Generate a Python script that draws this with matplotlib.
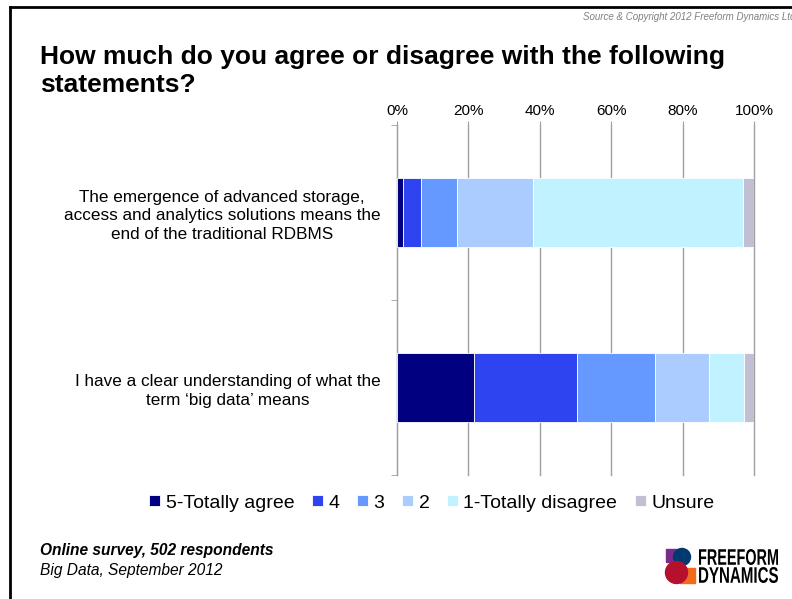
import matplotlib
matplotlib.use("Agg")
import matplotlib.pyplot as plt
from matplotlib.patches import Rectangle, Circle, PathPatch
from matplotlib.textpath import TextPath
from matplotlib.font_manager import FontProperties
from matplotlib.transforms import Affine2D
import numpy as np

plt.rcParams['font.family'] = ['Liberation Sans', 'DejaVu Sans']

# survey statements (top to bottom)
statements = [
    "The emergence of advanced storage,\naccess and analytics solutions means the\nend of the traditional RDBMS",
    "I have a clear understanding of what the\nterm \u2018big data\u2019 means",
]
series_names = ["5-Totally agree", "4", "3", "2", "1-Totally disagree", "Unsure"]
# percentages per statement, one list per answer
agree5 = [1.6, 21.6]
agree4 = [5.2, 28.8]
agree3 = [9.9, 21.9]
agree2 = [21.3, 15.0]
agree1 = [58.9, 10.0]
unsure = [3.1, 2.7]
colors = ["#000080", "#2E44F0", "#6699FF", "#AACCFF", "#C0F2FF", "#C0C0D2"]

W, H = 792, 599
fig = plt.figure(figsize=(W / 100, H / 100), dpi=100)
ax = fig.add_axes([397 / W, 1 - 475 / H, (754 - 397) / W, (475 - 125) / H])

y = np.arange(len(statements))
left = np.zeros(len(statements))
for name, vals, c in zip(series_names, [agree5, agree4, agree3, agree2, agree1, unsure], colors):
    ax.barh(y, vals, left=left, height=0.39, color=c, edgecolor='white',
            linewidth=0.6, label=name, zorder=3)
    left += np.array(vals)

ax.set_xlim(0, 100)
ax.set_ylim(1.5, -0.5)
ax.xaxis.tick_top()
ax.set_xticks(np.arange(0, 101, 20))
ax.set_xticklabels(["%d%%" % v for v in range(0, 101, 20)], fontsize=11)
ax.tick_params(axis='x', length=3, color='#A0A0A0', pad=2)
ax.grid(axis='x', color='#A0A0A0', linewidth=1, zorder=0)
for gl in ax.get_xgridlines():
    gl.set_clip_on(False)

ax.set_yticks(y)
ax.set_yticklabels(statements, fontsize=12.3, linespacing=1.32, multialignment='center')
ax.set_yticks([-0.5, 0.5, 1.5], minor=True)
ax.tick_params(axis='y', which='major', length=0, pad=12)
ax.tick_params(axis='y', which='minor', length=4, color='#A0A0A0')

for s in ['top', 'right', 'bottom']:
    ax.spines[s].set_visible(False)
ax.spines['left'].set_color('#A0A0A0')

fig.legend(loc='center', bbox_to_anchor=(432 / W, 1 - 503 / H), ncol=6, frameon=False,
           fontsize=14, handlelength=0.55, handleheight=0.55, handletextpad=0.3,
           columnspacing=0.9)

# title
fig.text(40 / W, 1 - 71 / H, "How much do you agree or disagree with the following\nstatements?",
         fontsize=19, fontweight='bold', va='center', ha='left', linespacing=1.2)

# source (cut at the right edge as in the original slide)
fig.text(583 / W, 1 - 17 / H, "Source & Copyright 2012 Freeform Dynamics Ltd",
         fontsize=7, style='italic', color='#808080', va='center', ha='left')

# footer
fig.text(40 / W, 1 - 551 / H, "Online survey, 502 respondents", fontsize=11.2,
         style='italic', fontweight='bold', va='center')
fig.text(40 / W, 1 - 570 / H, "Big Data, September 2012", fontsize=11.2,
         style='italic', va='center')

# slide border (top and left)
fig.add_artist(plt.Line2D([10 / W, 1], [1 - 7 / H, 1 - 7 / H], color='black', linewidth=2))
fig.add_artist(plt.Line2D([10 / W, 10 / W], [0, 1 - 7 / H], color='black', linewidth=2))

# logo, drawn in pixel coordinates
lax = fig.add_axes([660 / W, 1 - 590 / H, 130 / W, 45 / H])
lax.set_xlim(660, 790)
lax.set_ylim(590, 545)
lax.axis('off')
lax.add_patch(Rectangle((666, 549), 14, 13, color='#7B2A8C'))
lax.add_patch(Rectangle((680, 568), 15, 15, color='#F26A1B'))
lax.add_patch(Circle((682, 557), 8.5, color='#003A70'))
lax.add_patch(Circle((676.5, 572.5), 11, color='#B5112E'))

fp = FontProperties(family='Liberation Sans', weight='bold')


def logo_word(word, x0, x1, ytop, ybot):
    tp = TextPath((0, 0), word, size=1, prop=fp)
    ext = tp.get_extents()
    sx = (x1 - x0) / ext.width
    sy = (ybot - ytop) / ext.height
    tr = Affine2D().translate(-ext.x0, -ext.y0).scale(sx, -sy).translate(x0, ybot)
    lax.add_patch(PathPatch(tr.transform_path(tp), color='black', lw=0))


logo_word("FREEFORM", 699, 778, 549, 565)
logo_word("DYNAMICS", 699, 778, 567, 583)

fig.savefig("out.png", dpi=100)
